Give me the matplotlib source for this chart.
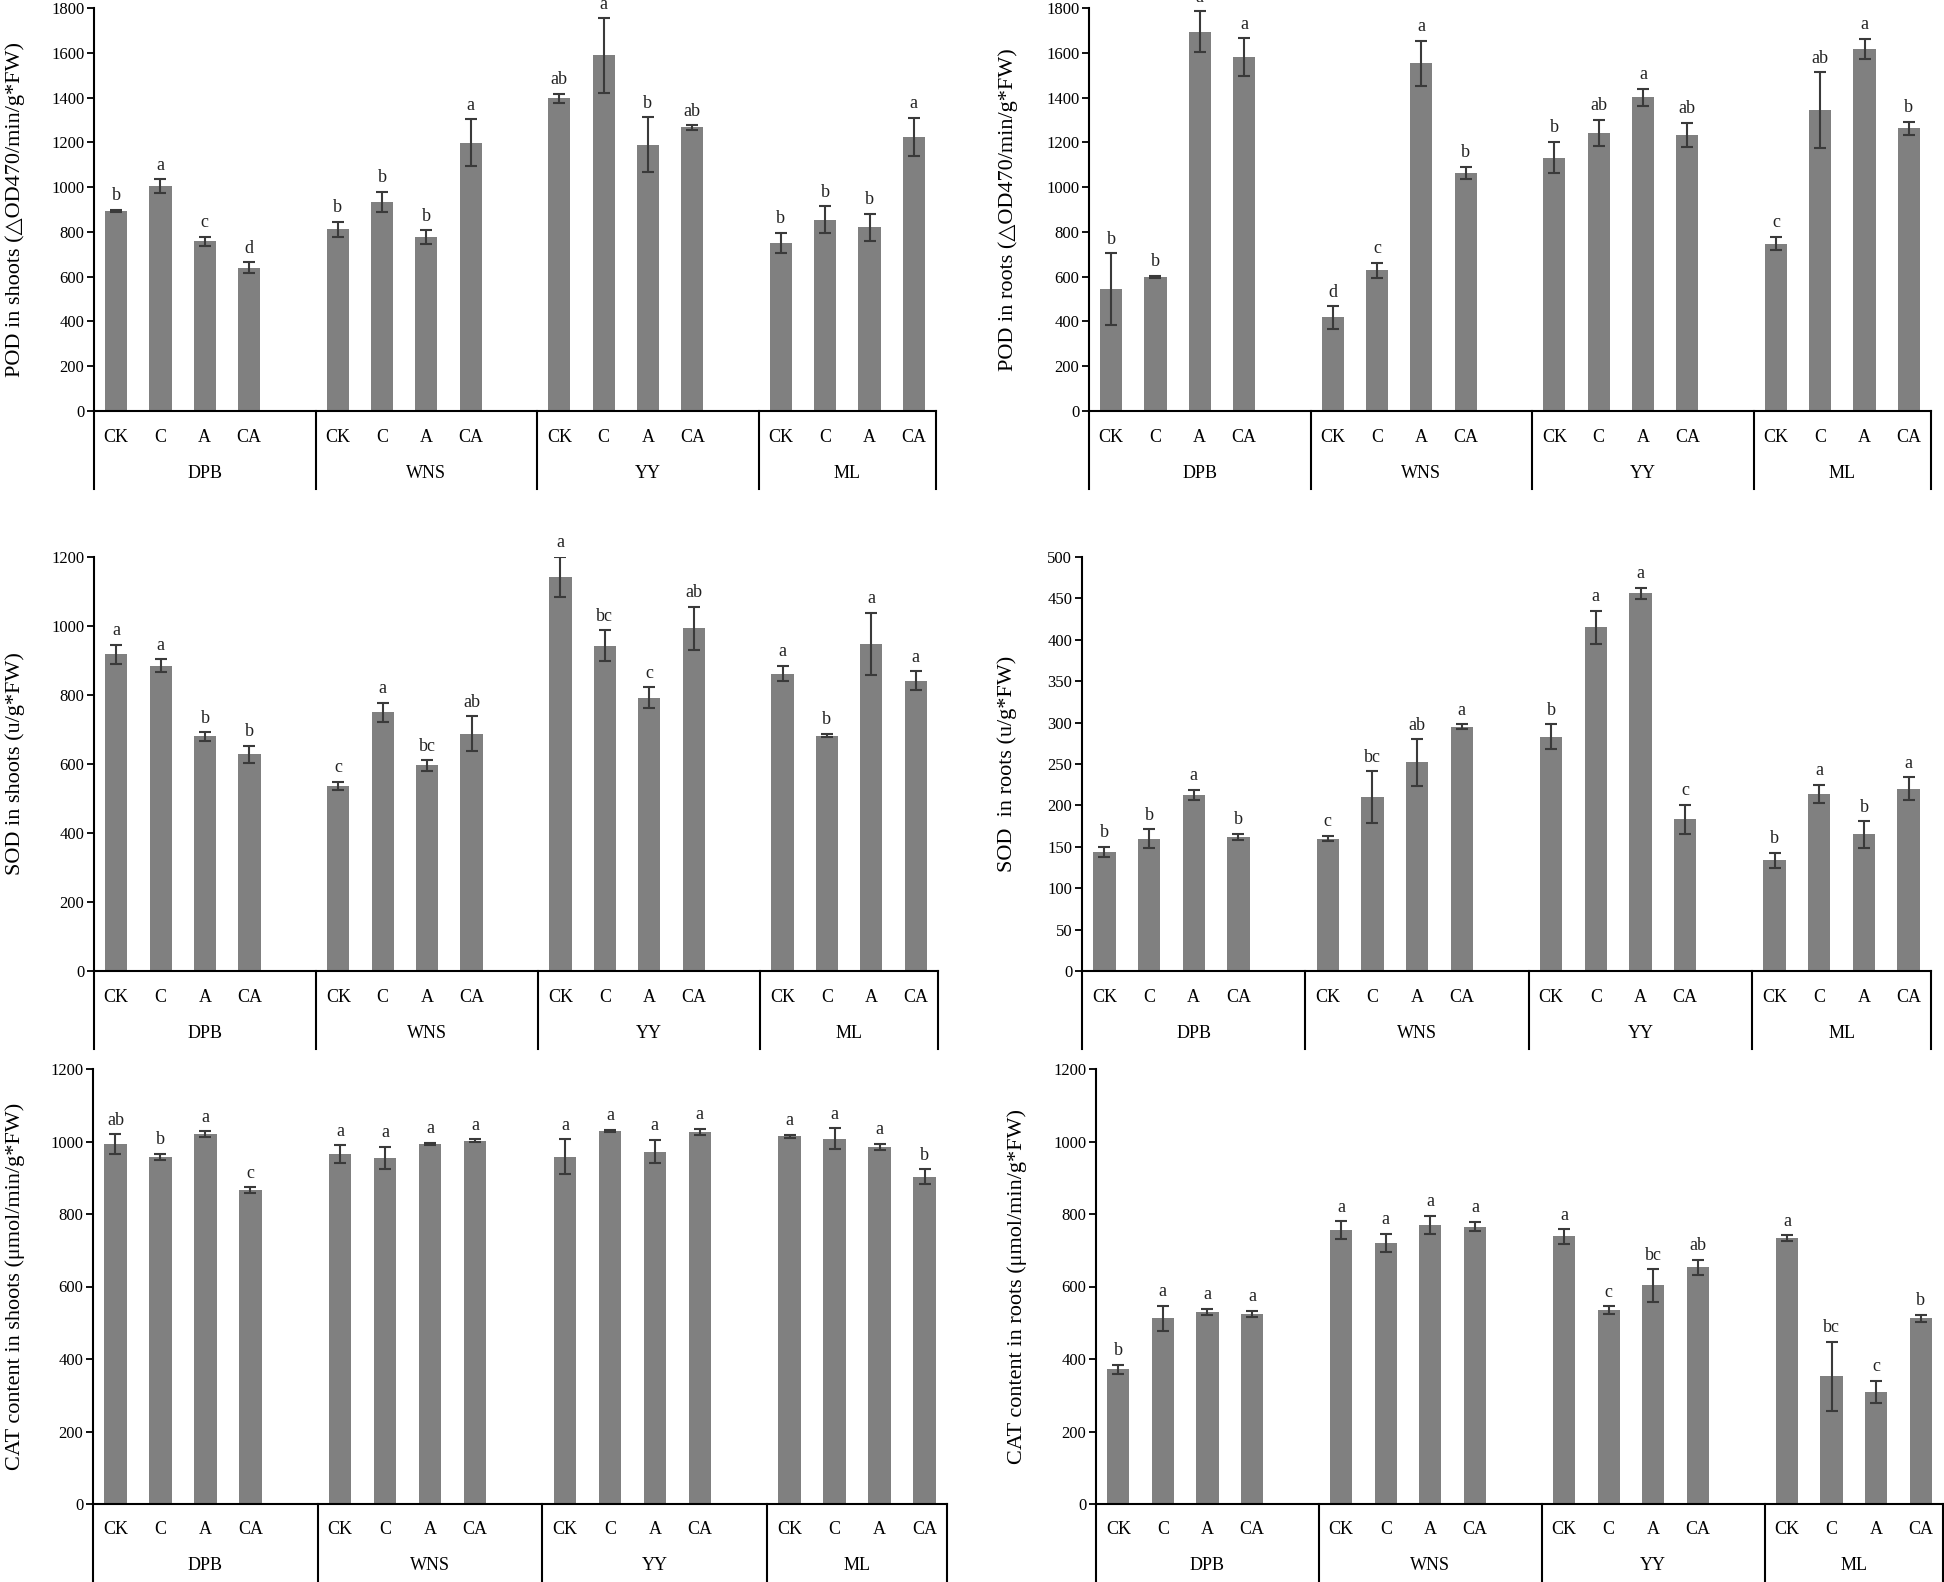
import matplotlib
matplotlib.use("Agg")
import matplotlib.pyplot as plt
from matplotlib.transforms import blended_transform_factory

plt.rcParams['font.family'] = ['Liberation Serif', 'DejaVu Serif']

W, H = 1944, 1582

treatments = ["CK", "C", "A", "CA"]
sites = ["DPB", "WNS", "YY", "ML"]

# POD in shoots
pod_shoot = [893, 1004, 759, 640, 811, 933, 778, 1198, 1396, 1588, 1190, 1267, 750, 855, 820, 1225]
pod_shoot_err = [5, 30, 20, 25, 33, 45, 30, 104, 20, 166, 122, 10, 45, 60, 60, 85]
pod_shoot_sig = ["b", "a", "c", "d", "b", "b", "b", "a", "ab", "a", "b", "ab", "b", "b", "b", "a"]

# POD in roots
pod_root = [545, 600, 1695, 1580, 418, 628, 1553, 1063, 1132, 1242, 1402, 1233, 748, 1343, 1618, 1262]
pod_root_err = [160, 5, 90, 85, 50, 35, 100, 28, 70, 58, 38, 55, 30, 170, 45, 30]
pod_root_sig = ["b", "b", "a", "a", "d", "c", "a", "b", "b", "ab", "a", "ab", "c", "ab", "a", "b"]

# SOD in shoots
sod_shoot = [918, 885, 680, 628, 537, 750, 596, 688, 1143, 943, 792, 993, 862, 682, 948, 842]
sod_shoot_err = [28, 18, 12, 25, 12, 27, 15, 50, 58, 45, 30, 62, 22, 5, 90, 27]
sod_shoot_sig = ["a", "a", "b", "b", "c", "a", "bc", "ab", "a", "bc", "c", "ab", "a", "b", "a", "a"]

# SOD in roots
sod_root = [144, 160, 213, 162, 160, 210, 252, 295, 283, 415, 456, 183, 134, 214, 165, 220]
sod_root_err = [6, 11, 6, 4, 3, 31, 28, 3, 15, 20, 7, 18, 9, 11, 16, 14]
sod_root_sig = ["b", "b", "a", "b", "c", "bc", "ab", "a", "b", "a", "a", "c", "b", "a", "b", "a"]

# CAT in shoots
cat_shoot = [993, 958, 1020, 866, 965, 955, 993, 1002, 958, 1030, 972, 1027, 1015, 1008, 985, 903]
cat_shoot_err = [27, 8, 8, 8, 25, 30, 4, 4, 48, 3, 32, 8, 4, 28, 8, 20]
cat_shoot_sig = ["ab", "b", "a", "c", "a", "a", "a", "a", "a", "a", "a", "a", "a", "a", "a", "b"]

# CAT in roots
cat_root = [372, 512, 530, 525, 755, 720, 770, 765, 738, 535, 603, 653, 733, 352, 310, 512]
cat_root_err = [12, 35, 8, 8, 25, 25, 25, 13, 20, 10, 45, 20, 8, 95, 30, 10]
cat_root_sig = ["b", "a", "a", "a", "a", "a", "a", "a", "a", "c", "bc", "ab", "a", "bc", "c", "b"]

panels = [
    # values, errors, letters, ylabel, ymax, step, (left, right, y0, ytop) px, ylabel x px
    (pod_shoot, pod_shoot_err, pod_shoot_sig, "POD in shoots (\u25b3OD470/min/g*FW)", 1800, 200, (94, 936, 411, 8), 15),
    (pod_root, pod_root_err, pod_root_sig, "POD in roots (\u25b3OD470/min/g*FW)", 1800, 200, (1089, 1931, 411, 8), 1008),
    (sod_shoot, sod_shoot_err, sod_shoot_sig, "SOD in shoots (u/g*FW)", 1200, 200, (94, 938, 971, 557), 15),
    (sod_root, sod_root_err, sod_root_sig, "SOD  in roots (u/g*FW)", 500, 50, (1082, 1931, 971, 557), 1007),
    (cat_shoot, cat_shoot_err, cat_shoot_sig, "CAT content in shoots (\u03bcmol/min/g*FW)", 1200, 200, (93, 947, 1504, 1069), 15),
    (cat_root, cat_root_err, cat_root_sig, "CAT content in roots (\u03bcmol/min/g*FW)", 1200, 200, (1096, 1943, 1504, 1069), 1017),
]

fig = plt.figure(figsize=(W / 100, H / 100), dpi=100)

for vals, errs, sig, ylabel, ymax, step, (lpx, rpx, y0px, ytpx), ylx in panels:
    ax = fig.add_axes([lpx / W, 1 - y0px / H, (rpx - lpx) / W, (y0px - ytpx) / H])
    xs = [g * 5 + i + 0.5 for g in range(len(sites)) for i in range(len(treatments))]
    ax.bar(xs, vals, width=0.5, color="#808080", zorder=2)
    ax.errorbar(xs, vals, yerr=errs, fmt="none", ecolor="#3a3a3a",
                elinewidth=1.5, capsize=4, capthick=1.5, zorder=3)
    for x, v, e, s in zip(xs, vals, errs, sig):
        ax.annotate(s, (x, v + e), xytext=(0, 4), textcoords="offset points",
                    ha="center", va="bottom", fontsize=13, color="#222222")

    ax.set_xlim(0, 19)
    ax.set_ylim(0, ymax)
    ax.set_yticks(range(0, ymax + 1, step))
    ax.tick_params(axis="y", direction="out", length=5, width=1.3, labelsize=12, pad=2)
    ax.set_xticks([])
    for sp in ["top", "right"]:
        ax.spines[sp].set_visible(False)
    ax.spines["left"].set_linewidth(1.5)
    ax.spines["bottom"].set_linewidth(1.5)

    # category brackets under the axis
    hpx = y0px - ytpx
    trans = blended_transform_factory(ax.transData, ax.transAxes)
    for xsep in [0, 5, 10, 15, 19]:
        ax.plot([xsep, xsep], [0, -78 / hpx], transform=trans, color="black",
                lw=1.5, clip_on=False)
    for x, t in zip(xs, treatments * len(sites)):
        ax.text(x, -26 / hpx, t, transform=trans, ha="center", va="center", fontsize=13)
    for g, name in enumerate(sites):
        cx = g * 5 + (2.5 if g < 3 else 2.0)
        ax.text(cx, -62 / hpx, name, transform=trans, ha="center", va="center", fontsize=13)

    fig.text(ylx / W, 1 - (y0px + ytpx) / 2 / H, ylabel, rotation=90,
             ha="center", va="center", fontsize=16)

fig.savefig("out.png", dpi=100)
